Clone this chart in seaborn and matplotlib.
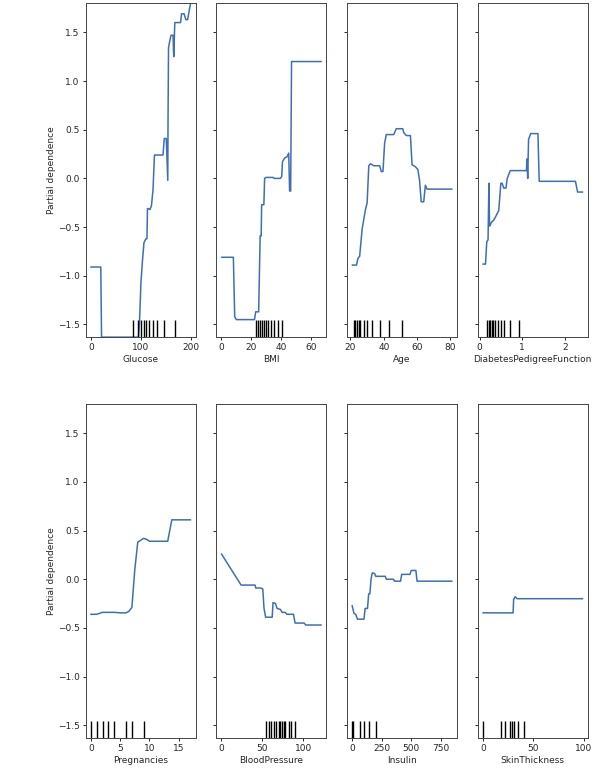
import matplotlib
matplotlib.use("Agg")
import matplotlib.pyplot as plt
import seaborn as sns

# partial dependence curves
glucose_x = [0, 20, 21.5, 95, 97, 100, 103, 106, 110, 112, 113, 115, 118, 121, 124, 127, 144, 146.5, 150.5, 153.5, 154, 155, 157, 160, 164, 165.4, 167.5, 179, 181, 186, 189.5, 193, 199]
glucose_y = [-0.91, -0.91, -1.63, -1.63, -1.5, -1.07, -0.85, -0.66, -0.62, -0.62, -0.31, -0.31, -0.32, -0.28, -0.12, 0.24, 0.24, 0.41, 0.41, -0.02, 0.6, 1.34, 1.40, 1.47, 1.47, 1.25, 1.60, 1.60, 1.69, 1.69, 1.63, 1.63, 1.80]

bmi_x = [0, 8, 8.9, 10, 22.2, 23, 25, 26, 26.7, 27, 28.5, 29, 30, 34.7, 35.5, 39.6, 40.5, 41, 42.5, 44, 45.2, 45.8, 46.5, 47.1, 67.1]
bmi_y = [-0.81, -0.81, -1.42, -1.45, -1.45, -1.37, -1.37, -0.59, -0.59, -0.27, -0.27, 0.0, 0.01, 0.01, 0.0, 0.0, 0.02, 0.17, 0.21, 0.22, 0.26, -0.13, -0.13, 1.20, 1.20]

age_x = [21, 23.6, 24.5, 25.5, 27, 29, 30, 31, 32, 34, 37.5, 38.5, 39.5, 40.5, 41.5, 46, 47.5, 51.4, 52, 53.5, 56, 57, 59, 60.5, 61.5, 62.5, 64, 65, 66, 81]
age_y = [-0.89, -0.89, -0.82, -0.80, -0.52, -0.32, -0.25, 0.13, 0.15, 0.13, 0.13, 0.07, 0.07, 0.36, 0.45, 0.45, 0.51, 0.51, 0.47, 0.44, 0.44, 0.14, 0.12, 0.09, -0.02, -0.24, -0.24, -0.07, -0.11, -0.11]

dpf_x = [0.078, 0.14, 0.17, 0.20, 0.22, 0.235, 0.25, 0.28, 0.33, 0.37, 0.45, 0.50, 0.53, 0.57, 0.62, 0.65, 0.72, 1.10, 1.115, 1.13, 1.15, 1.20, 1.37, 1.40, 2.25, 2.30, 2.42]
dpf_y = [-0.88, -0.88, -0.65, -0.63, -0.05, -0.49, -0.48, -0.45, -0.43, -0.40, -0.33, -0.05, -0.05, -0.10, -0.10, 0.0, 0.08, 0.08, 0.20, 0.0, 0.40, 0.46, 0.46, -0.03, -0.03, -0.14, -0.14]

preg_x = [0, 1, 2, 4, 5, 6, 6.5, 7, 7.5, 8, 8.5, 9, 9.5, 10, 13.1, 13.8, 17]
preg_y = [-0.36, -0.36, -0.34, -0.34, -0.345, -0.345, -0.33, -0.29, 0.10, 0.38, 0.40, 0.42, 0.41, 0.39, 0.39, 0.61, 0.61]

bp_x = [0, 24, 41, 42, 48, 50.5, 52, 54, 62, 63, 66, 68, 72, 74, 78, 80, 88, 90, 101, 103, 122]
bp_y = [0.26, -0.06, -0.06, -0.09, -0.09, -0.10, -0.30, -0.39, -0.39, -0.24, -0.25, -0.30, -0.31, -0.34, -0.34, -0.36, -0.36, -0.45, -0.45, -0.47, -0.47]

ins_x = [0, 15, 30, 45, 100, 110, 130, 140, 150, 160, 170, 190, 200, 280, 290, 350, 360, 410, 420, 490, 500, 540, 550, 846]
ins_y = [-0.27, -0.35, -0.36, -0.41, -0.41, -0.30, -0.30, -0.15, -0.15, 0.0, 0.065, 0.06, 0.03, 0.03, 0.0, 0.0, -0.02, -0.02, 0.05, 0.05, 0.09, 0.09, -0.02, -0.02]

skin_x = [0, 30, 30.5, 32, 34, 99]
skin_y = [-0.345, -0.345, -0.21, -0.18, -0.20, -0.20]

# deciles of each feature
glucose_dec = [84, 94, 100, 106, 111, 117, 124, 133, 146, 167]
bmi_dec = [23.2, 24.6, 26.0, 27.4, 28.8, 30.2, 31.6, 33.2, 35.0, 37.8, 40.9]
age_dec = [22, 23, 24, 25, 26, 28, 30, 33, 38, 43, 51]
dpf_dec = [0.17, 0.215, 0.25, 0.285, 0.315, 0.36, 0.43, 0.50, 0.58, 0.72, 0.92]
preg_dec = [0, 1, 2, 3, 4, 6, 7, 9]
bp_dec = [54, 58, 61, 64, 67, 70, 72, 74, 76, 78, 82, 85, 90]
ins_dec = [0, 5, 65, 100, 140, 200]
skin_dec = [0, 18, 22, 27, 29, 31, 35, 41]

features = ["Glucose", "BMI", "Age", "DiabetesPedigreeFunction",
            "Pregnancies", "BloodPressure", "Insulin", "SkinThickness"]
xs = [glucose_x, bmi_x, age_x, dpf_x, preg_x, bp_x, ins_x, skin_x]
ys = [glucose_y, bmi_y, age_y, dpf_y, preg_y, bp_y, ins_y, skin_y]
decs = [glucose_dec, bmi_dec, age_dec, dpf_dec, preg_dec, bp_dec, ins_dec, skin_dec]
xticks = [[0, 100, 200], [0, 20, 40, 60], [20, 40, 60, 80], [0, 1, 2],
          [0, 5, 10, 15], [0, 50, 100], [0, 250, 500, 750], [0, 50, 100]]

sns.set_style("ticks")
plt.rcParams["font.family"] = ["DejaVu Sans"]
plt.rcParams["font.size"] = 6.5

fig, axes = plt.subplots(2, 4, figsize=(6.04, 7.76), dpi=100)
fig.subplots_adjust(left=0.142, right=0.973, top=0.996, bottom=0.049,
                    wspace=0.19, hspace=0.2)

for i, ax in enumerate(axes.flat):
    sns.lineplot(x=xs[i], y=ys[i], estimator=None, sort=False,
                 color="#3f6fb3", lw=1.1, ax=ax)
    sns.rugplot(x=decs[i], height=0.05, color="black", lw=1.1, ax=ax)
    ax.set_ylim(-1.63, 1.80)
    ax.set_xticks(xticks[i])
    ax.set_yticks([-1.5, -1.0, -0.5, 0.0, 0.5, 1.0, 1.5])
    ax.set_xlabel(features[i], fontsize=6.5, labelpad=2)
    ax.tick_params(labelsize=6.5, length=2.5, width=0.7, pad=2)
    for s in ax.spines.values():
        s.set_linewidth(0.7)
        s.set_color("#444444")
    if i % 4 == 0:
        ax.set_ylabel("Partial dependence", fontsize=6.5, labelpad=1)
    else:
        ax.set_ylabel("")
        ax.set_yticklabels([])

fig.savefig("out.png", dpi=100)
